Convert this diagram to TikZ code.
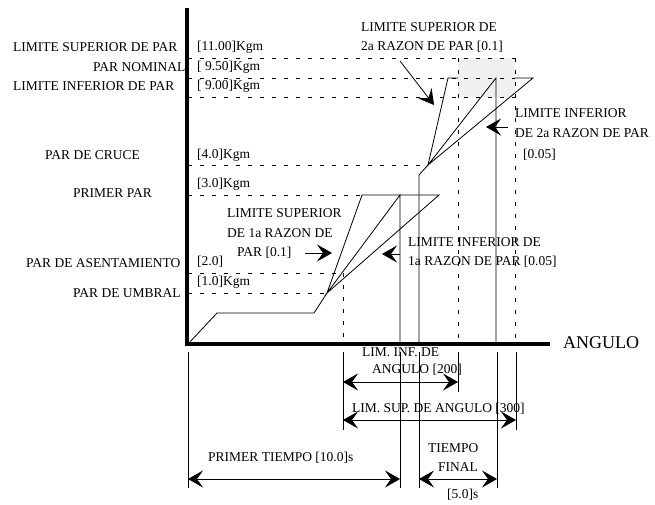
\documentclass[tikz,border=0pt]{standalone}
\usepackage{fontspec}
\setmainfont{Liberation Serif}
\usetikzlibrary{arrows.meta}

\begin{document}
\begin{tikzpicture}[x=1pt,y=-1pt,
    txt/.style={font=\fontsize{13.5}{15}\selectfont,inner sep=0pt,anchor=west},
    guia/.style={line width=0.6pt,dash pattern=on 4pt off 8pt},
    fina/.style={line width=0.8pt},
    eje/.style={line width=3.8pt},
    flecha/.style={fina,-{Stealth[length=15pt,width=17pt,inset=6pt]}},
    cota/.style={fina,{Stealth[length=15pt,width=17pt,inset=6pt]}-{Stealth[length=15pt,width=17pt,inset=6pt]}}]
  \useasboundingbox (0,0) rectangle (655,504);

  % puntos de la curva de apriete
  \coordinate (O) at (188,344);
  \coordinate (c1) at (217,313);
  \coordinate (c2) at (314,313);
  \coordinate (u) at (327,293);    % par de umbral
  \coordinate (s1) at (362,195);
  \coordinate (p1) at (400,195);   % primer par
  \coordinate (i1) at (439,195);
  \coordinate (q0) at (419,344);
  \coordinate (q1) at (419,175);
  \coordinate (k) at (428,165);    % par de cruce
  \coordinate (s2) at (448,78);
  \coordinate (p2) at (496,78);    % par nominal
  \coordinate (i2) at (533,78);

  % zona de aceptacion
  \fill[gray!12] (458,58) rectangle (515,97);

  % lineas guia
  \foreach \y/\xe in {58/515,78/515,97/515,165/428,195/362,273/343,293/327}
    \draw[guia] (188,\y) -- (\xe,\y);
  \foreach \x/\ys in {343/273,458/58,515/58}
    \draw[guia] (\x,\ys) -- (\x,344);

  % curva
  \draw[fina] (O) -- (c1) -- (c2) -- (u) -- (s1) -- (i1) -- (u) -- (p1) -- (p1 |- O);
  \draw[fina] (q0) -- (q1) -- (k) -- (s2) -- (458,78);
  \draw[fina] (515,78) -- (i2) -- (k) -- (p2) -- (p2 |- O);

  % ejes
  \draw[eje] (187,8) |- (550,344);
  \node[font=\fontsize{18}{20}\selectfont,inner sep=0pt,anchor=west] (angulo) at (563,343) {ANGULO};

  % etiquetas de par
  \node[txt] (lsp) at (13,47) {LIMITE SUPERIOR DE PAR};
  \node[txt] (pn) at (93,67) {PAR NOMINAL};
  \node[txt] (lip) at (13,86) {LIMITE INFERIOR DE PAR};
  \node[txt] (pc) at (45,155) {PAR DE CRUCE};
  \node[txt] (pp) at (73,193) {PRIMER PAR};
  \node[txt] (pa) at (26,263) {PAR DE ASENTAMIENTO};
  \node[txt] (pu) at (73,293) {PAR DE UMBRAL};

  \node[txt] (vlsp) at (197,47) {[11.00]Kgm};
  \node[txt] (vpn) at (197,67) {[ 9.50]Kgm};
  \node[txt] (vlip) at (197,86) {[ 9.00]Kgm};
  \node[txt] (vpc) at (197,155) {[4.0]Kgm};
  \node[txt] (vpp) at (197,184) {[3.0]Kgm};
  \node[txt] (vpa) at (197,262) {[2.0]};
  \node[txt] (vpu) at (197,282) {[1.0]Kgm};

  % razones de par
  \node[txt] (ls2a) at (361,27) {LIMITE SUPERIOR DE};
  \node[txt] (ls2b) at (361,47) {2a RAZON DE PAR [0.1]};
  \node[txt] (li2a) at (515,113) {LIMITE INFERIOR};
  \node[txt] (li2b) at (515,133) {DE 2a RAZON DE PAR};
  \node[txt] (li2c) at (523,155) {[0.05]};
  \node[txt] (ls1a) at (227,213) {LIMITE SUPERIOR};
  \node[txt] (ls1b) at (227,233) {DE 1a RAZON DE};
  \node[txt] (ls1c) at (237,253) {PAR [0.1]};
  \node[txt] (li1a) at (408,242) {LIMITE INFERIOR DE};
  \node[txt] (li1b) at (408,262) {1a RAZON DE PAR [0.05]};

  \draw[flecha] (400,61) -- (434,105);
  \draw[flecha] (508,127) -- (486,127);
  \draw[flecha] (305,253) -- (332,253);
  \draw[flecha] (400,254) -- (382,254);

  % lineas de cota
  \foreach \x/\ye in {188/488,343/430,400/488,419/488,458/392,497/488,516/430}
    \draw[fina] (\x,352) -- (\x,\ye);

  \draw[cota] (343,382) -- (458,382);
  \draw[cota] (343,420) -- (516,420);
  \draw[cota] (188,479) -- (400,479);
  \draw[cota] (419,479) -- (497,479);

  \node[txt] (lia) at (362,352) {LIM. INF. DE};
  \node[txt] (lib) at (372,370) {ANGULO [200]};
  \node[txt] (lsa) at (352,409) {LIM. SUP. DE ANGULO [300]};
  \node[txt] (pt) at (208,458) {PRIMER TIEMPO [10.0]s};
  \node[txt] (tfa) at (428,448) {TIEMPO};
  \node[txt] (tfb) at (438,467) {FINAL};
  \node[txt] (tfc) at (447,495) {[5.0]s};
\end{tikzpicture}
\end{document}
